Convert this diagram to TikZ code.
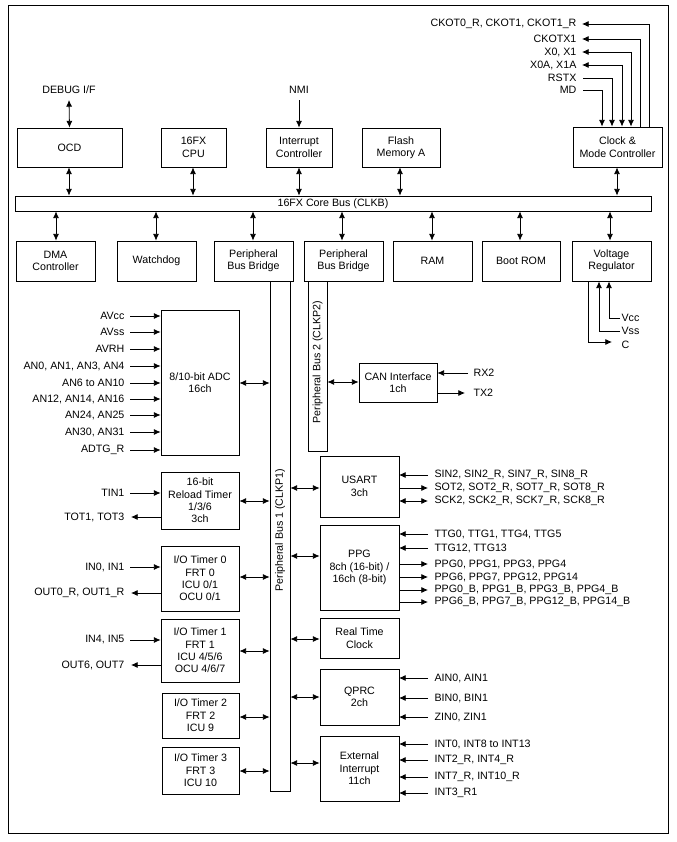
\documentclass[tikz,border=0pt]{standalone}
\usepackage{fontspec}
\setmainfont{Liberation Sans}
\usetikzlibrary{arrows.meta}
\begin{document}
\begin{tikzpicture}[x=0.75pt,y=-0.75pt,
  box/.style={draw,line width=0.6pt,align=center,inner sep=0pt,font=\fontsize{8}{9.3}\selectfont},
  lbl/.style={inner sep=1pt,font=\fontsize{8}{9.3}\selectfont},
  a/.style={-{Latex[length=5pt,width=4.5pt]},line width=0.6pt},
  da/.style={{Latex[length=5pt,width=4.5pt]}-{Latex[length=5pt,width=4.5pt]},line width=0.6pt}]
\useasboundingbox (0,0) rectangle (676,842);
\draw[line width=0.6pt] (8,5) rectangle (668,833);
\newcommand\bx[6]{\node[box,minimum width=#4*0.75pt-#2*0.75pt,minimum height=#5*0.75pt-#3*0.75pt] (#1) at ({(#2+#4)/2},{(#3+#5)/2}) {#6};}
% top row
\bx{ocd}{17}{128}{122}{167}{OCD}
\bx{cpu}{161}{128}{226}{167}{16FX\\CPU}
\bx{ic}{266}{128}{332}{167}{Interrupt\\Controller}
\bx{fl}{362}{128}{440}{167}{Flash\\Memory A}
\bx{clk}{573}{127}{662}{167}{Clock \&\\Mode Controller}
\bx{cb}{15}{196}{651}{211}{16FX Core Bus (CLKB)}
% second row
\bx{dma}{16}{241}{95}{281}{DMA\\Controller}
\bx{wd}{117}{241}{196}{281}{Watchdog}
\bx{pb1}{214}{241}{293}{281}{Peripheral\\Bus Bridge}
\bx{pb2}{304}{241}{383}{281}{Peripheral\\Bus Bridge}
\bx{ram}{393}{241}{472}{281}{RAM}
\bx{rom}{482}{241}{560}{281}{Boot ROM}
\bx{vr}{572}{241}{651}{281}{Voltage\\Regulator}
% buses
\bx{bus1}{270}{281}{290}{791}{}
\bx{bus2}{308}{281}{327}{451}{}
\node[lbl,rotate=90] at (280,530) {Peripheral Bus 1 (CLKP1)};
\node[lbl,rotate=90] at (317.5,362) {Peripheral Bus 2 (CLKP2)};
% modules
\bx{adc}{161}{310}{239}{455}{8/10-bit ADC\\16ch}
\bx{can}{359}{363}{437}{402}{CAN Interface\\1ch}
\bx{rt}{161}{472}{239}{529}{16-bit\\Reload Timer\\1/3/6\\3ch}
\bx{t0}{161}{546}{239}{611}{I/O Timer 0\\FRT 0\\ICU 0/1\\OCU 0/1}
\bx{t1}{161}{619}{239}{682}{I/O Timer 1\\FRT 1\\ICU 4/5/6\\OCU 4/6/7}
\bx{t2}{162}{693}{239}{738}{I/O Timer 2\\FRT 2\\ICU 9}
\bx{t3}{162}{747}{239}{794}{I/O Timer 3\\FRT 3\\ICU 10}
\bx{us}{320}{456}{399}{517}{USART\\3ch}
\bx{ppg}{320}{525}{399}{610}{PPG\\8ch (16-bit) /\\16ch (8-bit)}
\bx{rtc}{320}{618}{399}{658}{Real Time\\Clock}
\bx{qp}{320}{669}{399}{725}{QPRC\\2ch}
\bx{ei}{320}{736}{399}{801}{External\\Interrupt\\11ch}
% top signals
\node[lbl] (dbg) at (69,90) {DEBUG I/F};
\draw[da] (69,100) -- (ocd.north);
\node[lbl] (nmi) at (299,90) {NMI};
\draw[a] (299,100) -- (ic.north);
% core bus arrows
\foreach \n/\x in {ocd/69,cpu/193,ic/299,fl/400,clk/617}{\draw[da] (\n.south -| \x,0) -- (cb.north -| \x,0);}
\foreach \n/\x in {dma/56,wd/156,pb1/253,pb2/342,ram/432,rom/520,vr/610}{\draw[da] (cb.south -| \x,0) -- (\n.north -| \x,0);}
% clock signals
\foreach \t/\y/\x in {{CKOT0\_R, CKOT1, CKOT1\_R}/24/649,{CKOTX1}/39/640}{
  \node[lbl,anchor=east] at (578,\y) {\t};
  \draw[a] (clk.north -| \x,0) -- (\x,\y) -- (582,\y);}
\foreach \t/\y/\x in {{X0, X1}/52/631,{X0A, X1A}/65/622}{
  \node[lbl,anchor=east] at (578,\y) {\t};
  \draw[a] (\x,\y) -- (582,\y);
  \draw[a] (\x,\y) -- (clk.north -| \x,0);}
\foreach \t/\y/\x in {RSTX/78/612,MD/90/602}{
  \node[lbl,anchor=east] at (578,\y) {\t};
  \draw[a] (583,\y) -- (\x,\y) -- (clk.north -| \x,0);}
% voltage regulator
\node[lbl,anchor=west] (vcc) at (620,318) {Vcc};
\node[lbl,anchor=west] (vss) at (620,331) {Vss};
\node[lbl,anchor=west] (cc) at (620,345) {C};
\draw[a] (vcc.west) -- (609,318) -- (vr.south -| 609,0);
\draw[a] (vss.west) -- (599,331) -- (vr.south -| 599,0);
\draw[a] (vr.south -| 588,0) -- (588,342) -- (612,342);
% ADC
\foreach \t/\y in {AVcc/316,AVss/332,AVRH/349,{AN0, AN1, AN3, AN4}/366,{AN6 to AN10}/383,{AN12, AN14, AN16}/399,{AN24, AN25}/415,{AN30, AN31}/432,ADTG\_R/450}{
  \node[lbl,anchor=east] at (126,\y) {\t};
  \draw[a] (130,\y) -- (adc.west |- 0,\y);}
\draw[da] (adc.east |- 0,383) -- (bus1.west |- 0,383);
% CAN
\draw[da] (bus2.east |- 0,382) -- (can.west |- 0,382);
\node[lbl,anchor=west] at (472,373) {RX2};
\node[lbl,anchor=west] at (472,393) {TX2};
\draw[a] (468,373) -- (can.east |- 0,373);
\draw[a] (can.east |- 0,393) -- (465,393);
% left timers
\node[lbl,anchor=east] at (126,493) {TIN1};
\draw[a] (130,493) -- (rt.west |- 0,493);
\node[lbl,anchor=east] at (126,517) {TOT1, TOT3};
\draw[a] (rt.west |- 0,517) -- (131,517);
\node[lbl,anchor=east] at (126,567) {IN0, IN1};
\draw[a] (130,567) -- (t0.west |- 0,567);
\node[lbl,anchor=east] at (126,593) {OUT0\_R, OUT1\_R};
\draw[a] (t0.west |- 0,593) -- (131,593);
\node[lbl,anchor=east] at (126,640) {IN4, IN5};
\draw[a] (130,640) -- (t1.west |- 0,640);
\node[lbl,anchor=east] at (126,665) {OUT6, OUT7};
\draw[a] (t1.west |- 0,665) -- (131,665);
\foreach \n/\y in {rt/501,t0/577,t1/651,t2/717,t3/771}{\draw[da] (\n.east |- 0,\y) -- (bus1.west |- 0,\y);}
\foreach \n/\y in {us/488,ppg/556,rtc/639,qp/697,ei/763}{\draw[da] (bus1.east |- 0,\y) -- (\n.west |- 0,\y);}
% right signals
\foreach \t/\y/\k in {{SIN2, SIN2\_R, SIN7\_R, SIN8\_R}/475/i,{SOT2, SOT2\_R, SOT7\_R, SOT8\_R}/488/o,{SCK2, SCK2\_R, SCK7\_R, SCK8\_R}/501/d,
  {TTG0, TTG1, TTG4, TTG5}/534/i,{TTG12, TTG13}/548/i,{PPG0, PPG1, PPG3, PPG4}/564/o,{PPG6, PPG7, PPG12, PPG14}/577/o,{PPG0\_B, PPG1\_B, PPG3\_B, PPG4\_B}/590/o,{PPG6\_B, PPG7\_B, PPG12\_B, PPG14\_B}/602/o,
  {AIN0, AIN1}/678/i,{BIN0, BIN1}/698/i,{ZIN0, ZIN1}/717/i,
  {INT0, INT8 to INT13}/744/i,{INT2\_R, INT4\_R}/760/i,{INT7\_R, INT10\_R}/777/i,{INT3\_R1}/793/i}{
  \node[lbl,anchor=west] at (433,\y) {\t};
  \if\k i \draw[a] (428,\y) -- (399,\y); \fi
  \if\k o \draw[a] (399,\y) -- (428,\y); \fi
  \if\k d \draw[da] (399,\y) -- (428,\y); \fi}
\end{tikzpicture}
\end{document}
